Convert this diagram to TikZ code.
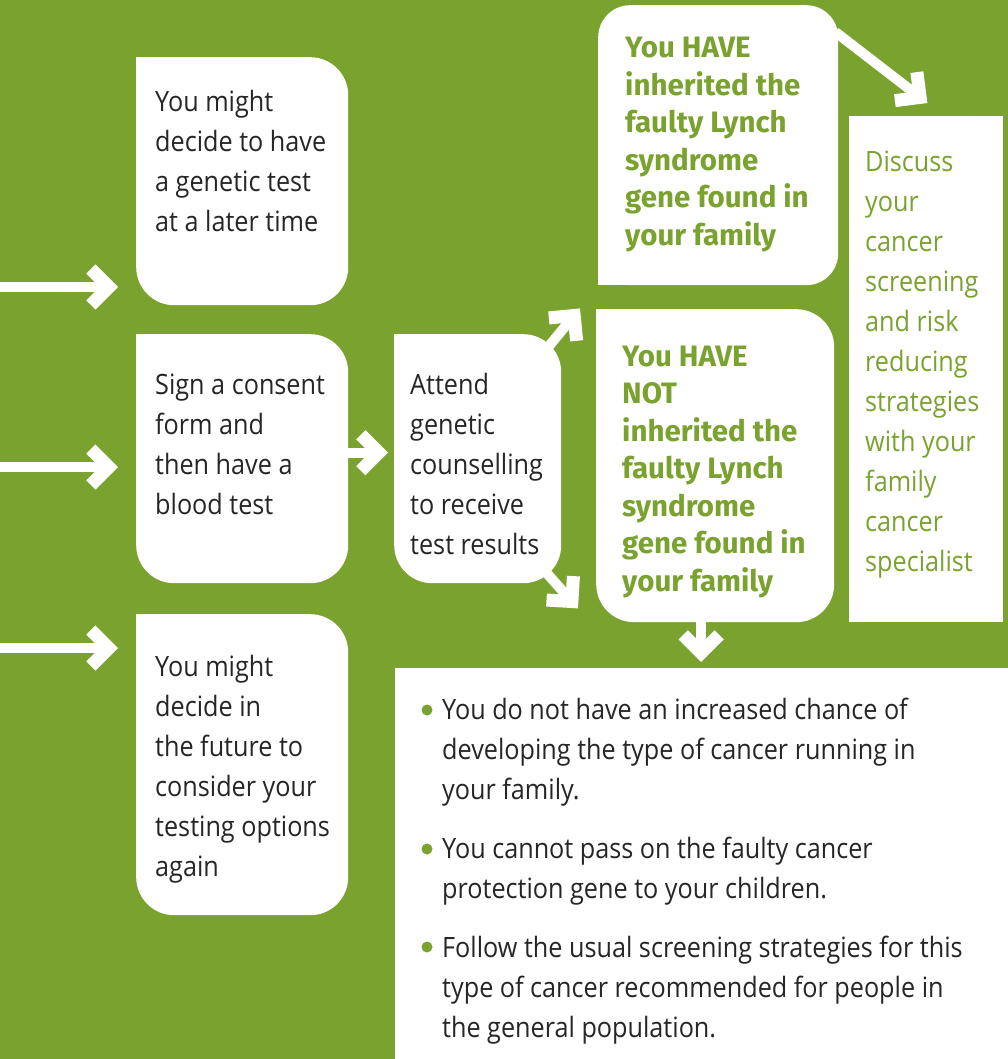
\documentclass[tikz,border=0pt]{standalone}
\usepackage{fontspec}
\setmainfont{Open Sans}[FakeStretch=0.9]
\newfontfamily\headfont{Fira Sans}
\usetikzlibrary{arrows.meta}
\definecolor{lgreen}{RGB}{122,162,46}
\definecolor{tgray}{RGB}{38,38,38}
\tikzset{
  box/.style={fill=white, draw=none, rounded corners=38pt, inner sep=0pt, anchor=north west},
  sqbox/.style={fill=white, draw=none, inner sep=0pt, anchor=north west},
  body/.style={font=\fontsize{28}{40}\selectfont, text=tgray, align=left, anchor=base west, inner sep=0pt},
  gbody/.style={body, text=lgreen},
  head/.style={font=\headfont\bfseries\fontsize{29.5}{37.5}\selectfont, text=lgreen, align=left, anchor=base west, inner sep=0pt},
  arr/.style={draw=white, line width=10pt, -{Straight Barb[length=18pt,width=36pt,line width=13pt 0]}},
  dot/.style={circle, fill=lgreen, minimum size=11pt, inner sep=0pt}
}
\begin{document}
\begin{tikzpicture}[x=1pt,y=-1pt]
\useasboundingbox (0,0) rectangle (1008,1059);
\fill[lgreen] (0,0) rectangle (1008,1059);
% boxes
\node[box, minimum width=212pt, minimum height=248pt] (A) at (136,57) {};
\fill[white] (A.north west) rectangle ++(50,50);
\node[box, minimum width=212pt, minimum height=249pt] (B) at (136,334) {};
\fill[white] (B.north west) rectangle ++(50,50);
\node[box, minimum width=212pt, minimum height=301pt] (C) at (136,614) {};
\fill[white] (C.north west) rectangle ++(50,50);
\node[box, minimum width=167pt, minimum height=249pt] (D) at (394,334) {};
\fill[white] (D.north west) rectangle ++(50,50);
\node[box, rounded corners=32pt, minimum width=240pt, minimum height=280pt] (E) at (598,5) {};
\fill[white] (E.south west) rectangle ++(50,-50);
\node[box, minimum width=238pt, minimum height=313pt] (F) at (596,309) {};
\fill[white] (F.north west) rectangle ++(50,50);
\node[sqbox, minimum width=154pt, minimum height=506pt] (G) at (849,116) {};
\node[sqbox, minimum width=613pt, minimum height=395pt] (H) at (395,668) {};
% arrows
\coordinate (l1) at (0,287);
\coordinate (l2) at (0,467);
\coordinate (l3) at (0,648);
\draw[arr, shorten >=18pt] (l1) -- (l1 -| A.west);
\draw[arr, shorten >=18pt] (l2) -- (l2 -| B.west);
\draw[arr, shorten >=18pt] (l3) -- (l3 -| C.west);
\draw[arr, shorten >=6pt] ([yshift=6]B.east) -- ([yshift=6]D.west);
\draw[arr] ([shift={(-14,14)}]D.north east) -- ([shift={(-18,23)}]E.south west);
\draw[arr] ([shift={(-18,-14)}]D.south east) -- ([shift={(-18,-14)}]F.south west);
\draw[arr] ([shift={(-3,27)}]E.north east) -- ([shift={(-76,-13)}]G.north east);
\draw[arr, shorten >=6pt] ([xshift=-14]F.south) -- ([xshift=-14]F.south |- H.north);
% texts (anchor at baseline of last line)
\node[body] (tA) at (155,232) {You might\\decide to have\\a genetic test\\at a later time};
\node[body] (tB) at (155,514) {Sign a consent\\form and\\then have a\\blood test};
\node[body] (tC) at (155,876) {You might\\decide in\\the future to\\consider your\\testing options\\again};
\node[body] (tD) at (410,554) {Attend\\genetic\\counselling\\to receive\\test results};
\node[head] (tE) at (625,245.5) {You HAVE\\inherited the\\faulty Lynch\\syndrome\\gene found in\\your family};
\node[head] (tF) at (622,591) {You HAVE\\NOT\\inherited the\\faulty Lynch\\syndrome\\gene found in\\your family};
\node[gbody] (tG) at (865,571) {Discuss\\your\\cancer\\screening\\and risk\\reducing\\strategies\\with your\\family\\cancer\\specialist};
\node[dot] (b1) at (427,710) {};
\node[dot] (b2) at (427,849) {};
\node[dot] (b3) at (427,947) {};
\node[body] (h1) at (442,799) {You do not have an increased chance of\\developing the type of cancer running in\\your family.};
\node[body] (h2) at (442,898) {You cannot pass on the faulty cancer\\protection gene to your children.};
\node[body] (h3) at (442,1037) {Follow the usual screening strategies for this\\type of cancer recommended for people in\\the general population.};
\end{tikzpicture}
\end{document}
